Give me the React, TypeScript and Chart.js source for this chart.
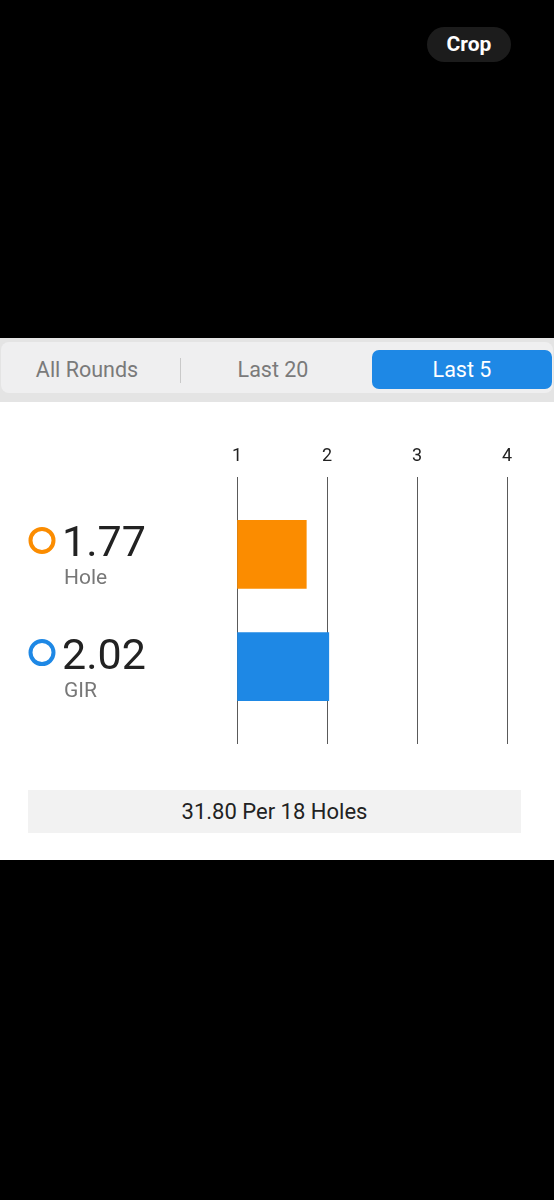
import React, { useEffect, useRef } from "react";
import { Chart, registerables } from "chart.js";

Chart.register(...registerables);

const categories = ["Hole", "GIR"];
const values = [1.77, 2.02];
const positions = [0, 1];
const barColors = ["#fb8c00", "#1e88e5"];
const tickValues = [1, 2, 3, 4];
const segments = ["All Rounds", "Last 20", "Last 5"];
const footerText = "31.80 Per 18 Holes";

const FONT = "Roboto, 'Noto Sans', sans-serif";

const labelPlugin = {
  id: "rowLabels",
  afterDatasetsDraw(chart: any) {
    const ctx = chart.ctx;
    const yScale = chart.scales.y;
    ctx.save();
    categories.forEach((cat, i) => {
      const cy = yScale.getPixelForValue(positions[i]);
      ctx.beginPath();
      ctx.lineWidth = 4;
      ctx.strokeStyle = barColors[i];
      ctx.arc(42, cy - 14, 11.5, 0, Math.PI * 2);
      ctx.stroke();
      ctx.fillStyle = "#222222";
      ctx.font = `43px ${FONT}`;
      ctx.textAlign = "left";
      ctx.textBaseline = "alphabetic";
      ctx.fillText(values[i].toFixed(2), 62, cy + 2);
      ctx.fillStyle = "#777777";
      ctx.font = `21px ${FONT}`;
      ctx.fillText(cat, 64, cy + 30);
    });
    ctx.restore();
  },
};

function BarChart() {
  const ref = useRef<HTMLCanvasElement | null>(null);
  useEffect(() => {
    if (!ref.current) return;
    const chart = new Chart(ref.current, {
      type: "bar",
      data: {
        datasets: [
          {
            data: values.map((v, i) => ({ x: v, y: positions[i] })),
            backgroundColor: barColors,
            barThickness: 68,
            base: 1,
          } as any,
        ],
      },
      options: {
        indexAxis: "y",
        animation: false,
        responsive: false,
        maintainAspectRatio: false,
        layout: { padding: { top: 32.4, bottom: 29, left: 237, right: 47 } },
        plugins: { legend: { display: false }, tooltip: { enabled: false } },
        scales: {
          x: {
            type: "linear",
            position: "top",
            min: tickValues[0],
            max: tickValues[tickValues.length - 1],
            afterBuildTicks: (scale: any) => {
              scale.ticks = tickValues.map((v) => ({ value: v }));
            },
            ticks: {
              color: "#222222",
              padding: 10,
              font: { family: FONT, size: 18 },
            },
            grid: { color: "#5a5a5a", lineWidth: 1, drawTicks: false },
            border: { display: false },
          },
          y: {
            type: "linear",
            display: false,
            reverse: true,
            offset: false,
            min: -0.69,
            max: 1.69,
          },
        },
      } as any,
      plugins: [labelPlugin],
    });
    return () => chart.destroy();
  }, []);
  return (
    <canvas
      ref={ref}
      width={554}
      height={370}
      style={{ position: "absolute", left: 0, top: 403, width: 554, height: 370 }}
    />
  );
}

export default function App() {
  return (
    <div
      style={{
        position: "absolute",
        left: 0,
        top: 0,
        width: 554,
        height: 1200,
        background: "#000",
        overflow: "hidden",
        fontFamily: FONT,
      }}
    >
      <div
        style={{
          position: "absolute",
          left: 427,
          top: 27,
          width: 84,
          height: 35,
          borderRadius: 18,
          background: "#1c1c1c",
          color: "#fff",
          fontWeight: 700,
          fontSize: 21,
          lineHeight: "35px",
          textAlign: "center",
        }}
      >
        Crop
      </div>
      <div
        style={{
          position: "absolute",
          left: 0,
          top: 338,
          width: 554,
          height: 522,
          background: "#fff",
        }}
      />
      <div
        style={{
          position: "absolute",
          left: 0,
          top: 338,
          width: 554,
          height: 64,
          background: "#e4e4e4",
        }}
      />
      <div
        style={{
          position: "absolute",
          left: 1,
          top: 342,
          width: 552,
          height: 51,
          borderRadius: 8,
          background: "#efeff0",
        }}
      />
      <div
        style={{
          position: "absolute",
          left: 372,
          top: 350,
          width: 180,
          height: 39,
          borderRadius: 7,
          background: "#1e88e5",
        }}
      />
      <div
        style={{
          position: "absolute",
          left: 180,
          top: 358,
          width: 1,
          height: 25,
          background: "#c9c9c9",
        }}
      />
      {segments.map((s, i) => {
        const lefts = [0, 183, 372];
        const widths = [174, 180, 180];
        return (
          <div
            key={s}
            style={{
              position: "absolute",
              left: lefts[i],
              top: 350,
              width: widths[i],
              height: 39,
              lineHeight: "39px",
              textAlign: "center",
              fontSize: 21.5,
              color: i === 2 ? "#fff" : "#7a7a7a",
            }}
          >
            {s}
          </div>
        );
      })}
      <BarChart />
      <div
        style={{
          position: "absolute",
          left: 28,
          top: 790,
          width: 493,
          height: 43,
          background: "#f2f2f2",
          color: "#222",
          fontSize: 22,
          lineHeight: "43px",
          textAlign: "center",
        }}
      >
        {footerText}
      </div>
    </div>
  );
}
